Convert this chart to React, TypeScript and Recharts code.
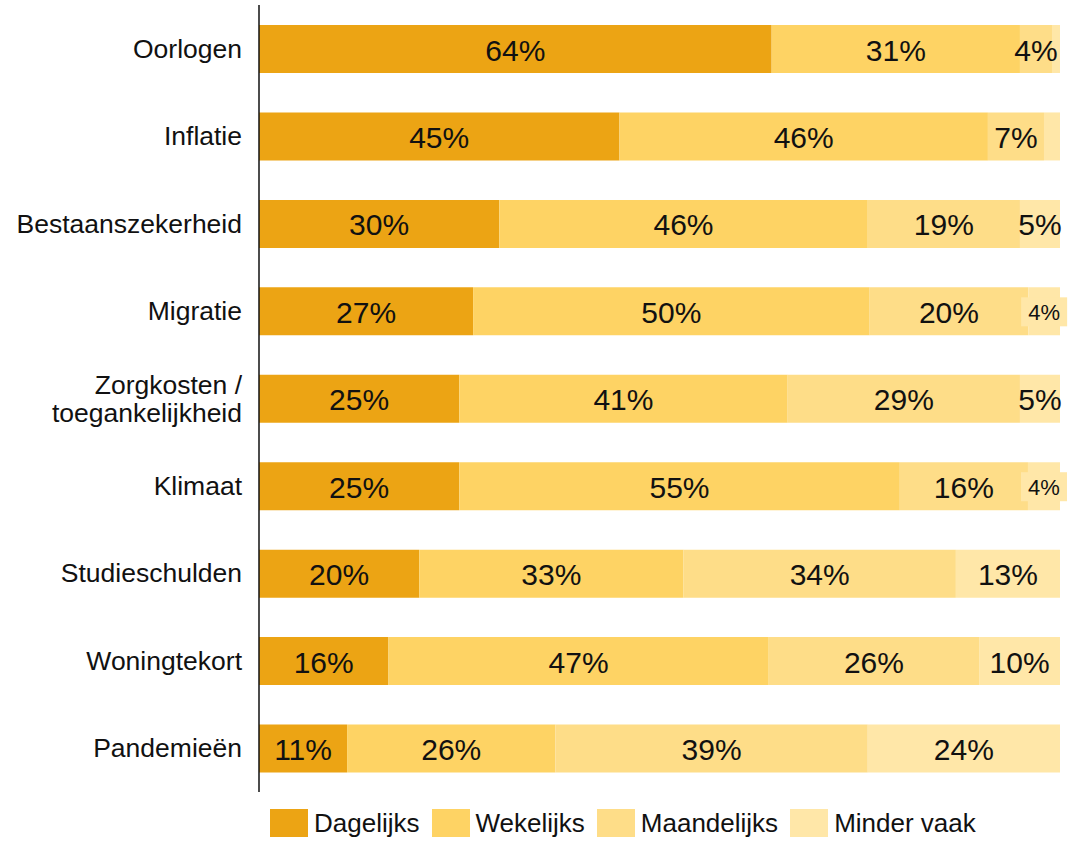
import React from 'react';
import { BarChart, Bar, XAxis, YAxis, LabelList } from 'recharts';

const categories = [
  'Oorlogen',
  'Inflatie',
  'Bestaanszekerheid',
  'Migratie',
  'Zorgkosten / toegankelijkheid',
  'Klimaat',
  'Studieschulden',
  'Woningtekort',
  'Pandemieën',
];
const dagelijks = [64, 45, 30, 27, 25, 25, 20, 16, 11];
const wekelijks = [31, 46, 46, 50, 41, 55, 33, 47, 26];
const maandelijks = [4, 7, 19, 20, 29, 16, 34, 26, 39];
const minderVaak = [1, 2, 5, 4, 5, 4, 13, 10, 24];

const series = [
  { key: 'dagelijks', name: 'Dagelijks', values: dagelijks, color: '#ECA414' },
  { key: 'wekelijks', name: 'Wekelijks', values: wekelijks, color: '#FED364' },
  { key: 'maandelijks', name: 'Maandelijks', values: maandelijks, color: '#FEDD88' },
  { key: 'minderVaak', name: 'Minder vaak', values: minderVaak, color: '#FFE7A8' },
];

const data = categories.map((name, i) => {
  const row: any = { name };
  series.forEach((s) => (row[s.key] = s.values[i]));
  return row;
});

const FONT = '"Liberation Sans", Arial, sans-serif';

const CategoryTick = ({ x, y, payload }: any) => {
  const label: string = payload.value;
  const parts = label.split(' / ');
  const lines = parts.length > 1 ? [parts[0] + ' /', parts[1]] : [label];
  const lh = 28;
  const start = -((lines.length - 1) * lh) / 2;
  return (
    <g>
      {lines.map((l, i) => (
        <text
          key={i}
          x={x}
          y={y + start + i * lh}
          textAnchor="end"
          dominantBaseline="central"
          fontSize={26.5}
          fontFamily={FONT}
          fill="#111"
        >
          {l}
        </text>
      ))}
    </g>
  );
};

const makeLabel = (sIdx: number) => (props: any) => {
  const { x, y, width, height, index } = props;
  const s = series[sIdx];
  const v = s.values[index];
  if (v < 3) return null;
  const cx = x + width / 2;
  const cy = y + height / 2;
  // tiny "minder vaak" shares get a smaller label on a box
  if (sIdx === 3 && v <= 4) {
    return (
      <g>
        <rect x={cx - 23} y={cy - 14} width={46} height={29} fill={s.color} />
        <text x={cx} y={cy + 1} textAnchor="middle" dominantBaseline="central" fontSize={22} fontFamily={FONT} fill="#111">
          {v}%
        </text>
      </g>
    );
  }
  return (
    <text x={cx} y={cy + 1} textAnchor="middle" dominantBaseline="central" fontSize={30} fontFamily={FONT} fill="#111">
      {v}%
    </text>
  );
};

export default function App() {
  return (
    <div style={{ position: 'relative', width: 1079, height: 841, background: '#fff', fontFamily: FONT }}>
      <style>{`body{margin:0}`}</style>
      <BarChart
        width={1079}
        height={800}
        data={data}
        layout="vertical"
        stackOffset="expand"
        barSize={48}
        margin={{ top: 5, right: 19, bottom: 8, left: 0 }}
      >
        <XAxis type="number" domain={[0, 1]} hide />
        <YAxis
          type="category"
          dataKey="name"
          width={259}
          axisLine={{ stroke: '#111', strokeWidth: 1.5 }}
          tickLine={false}
          tickSize={0}
          tickMargin={17}
          interval={0}
          tick={<CategoryTick />}
        />
        {series.map((s, i) => (
          <Bar key={s.key} dataKey={s.key} name={s.name} stackId="a" fill={s.color} isAnimationActive={false}>
            <LabelList dataKey={s.key} content={makeLabel(i)} />
          </Bar>
        ))}
      </BarChart>

      {/* Legend */}
      <div style={{ position: 'absolute', left: 270, top: 809, display: 'flex', alignItems: 'center', gap: 12 }}>
        {series.map((s) => (
          <div key={s.key} style={{ display: 'flex', alignItems: 'center', gap: 6 }}>
            <div style={{ width: 38, height: 28, backgroundColor: s.color }} />
            <span style={{ fontSize: 26, color: '#111', lineHeight: '28px' }}>{s.name}</span>
          </div>
        ))}
      </div>
    </div>
  );
}
